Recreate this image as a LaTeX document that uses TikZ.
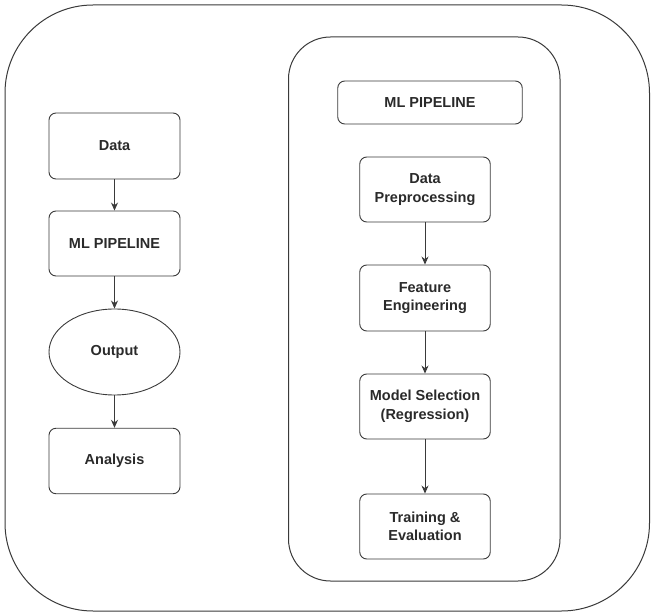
\documentclass[tikz,border=0pt]{standalone}
\usepackage{fontspec}
\setmainfont{Liberation Sans}
\usetikzlibrary{shapes.geometric,arrows.meta}
\definecolor{ln}{HTML}{3A3A3A}
\definecolor{tx}{HTML}{2A2A2A}
\tikzset{
  box/.style={draw=ln, line width=0.9pt, rounded corners=7pt, align=center, inner sep=0pt,
    font=\fontsize{14.5}{18.5}\selectfont\bfseries, text=tx},
  oval/.style={draw=ln, line width=0.9pt, ellipse, align=center, inner sep=0pt,
    font=\fontsize{14.5}{18.5}\selectfont\bfseries, text=tx},
  con/.style={draw=ln, line width=0.9pt, -{Stealth[length=8pt,width=7pt]}},
  frame/.style={draw=ln, line width=1pt}
}
\begin{document}
\begin{tikzpicture}[x=1pt,y=-1pt]
\useasboundingbox (0,0) rectangle (651,612);
\draw[frame, rounded corners=88pt] (5,5) rectangle (649.5,611);
\draw[frame, rounded corners=42pt] (288.5,37) rectangle (560,581);
% left column
\node[box, minimum width=131pt, minimum height=66pt] (data) at (114.5,146) {Data};
\node[box, minimum width=131pt, minimum height=65pt] (mlp) at (114.5,243.5) {ML PIPELINE};
\node[oval, minimum width=131pt, minimum height=86pt] (out) at (114.5,352) {Output};
\node[box, minimum width=131pt, minimum height=65.5pt] (ana) at (114.5,461) {Analysis};
% right column
\node[box, minimum width=184.5pt, minimum height=43pt] (hdr) at (430,102.5) {ML PIPELINE};
\node[box, minimum width=130.5pt, minimum height=65pt] (dp) at (425,189.5) {Data\\Preprocessing};
\node[box, minimum width=130.5pt, minimum height=66pt] (fe) at (425,298) {Feature\\Engineering};
\node[box, minimum width=130.5pt, minimum height=65pt] (ms) at (425,406.5) {Model Selection\\(Regression)};
\node[box, minimum width=130.5pt, minimum height=65pt] (te) at (425,526.5) {Training \&\\Evaluation};
% connectors
\draw[con] (data) -- (mlp);
\draw[con] (mlp) -- (out);
\draw[con] (out) -- (ana);
\draw[con] (dp) -- (fe);
\draw[con] (fe) -- (ms);
\draw[con] (ms) -- (te);
\end{tikzpicture}
\end{document}
